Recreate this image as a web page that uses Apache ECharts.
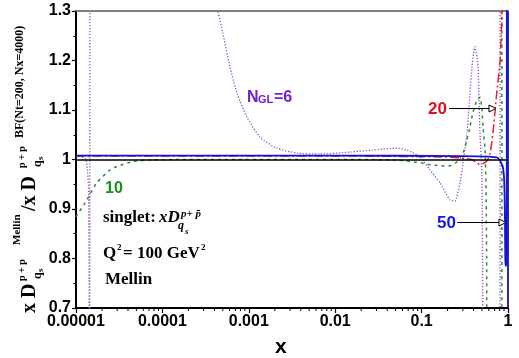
<!DOCTYPE html>
<html><head><meta charset="utf-8">
<script src="https://cdn.jsdelivr.net/npm/echarts@6/dist/echarts.min.js"></script>
<style>html,body{margin:0;padding:0;background:#fff}#c{width:519px;height:358px}</style>
</head><body><div id="c"></div>
<script>
// ---- data ----
const xTickLabels = ['0.00001','0.0001','0.001','0.01','0.1','1'];
const yTickLabels = ['0.7','0.8','0.9','1','1.1','1.2','1.3'];
const ngl6 = [[1e-5,1.008],[1.3e-5,1.0],[1.4e-5,0.93],[1.44e-5,0.4],[1.46e-5,1.7],[3e-4,1.6],[4.0e-4,1.33],[4.4e-4,1.298],[5.0e-4,1.256],[6.05e-4,1.187],[7.3e-4,1.134],[9.5e-4,1.086],[1.35e-3,1.045],[2.1e-3,1.023],[3.6e-3,1.013],[6.7e-3,1.011],[0.0148,1.015],[0.0274,1.019],[0.052,1.023],[0.068,1.019],[0.096,1.005],[0.125,0.979],[0.163,0.953],[0.213,0.918],[0.244,0.916],[0.278,0.953],[0.294,0.979],[0.335,1.054],[0.383,1.187],[0.40,1.215],[0.415,1.228],[0.43,1.215],[0.45,1.187],[0.474,1.054],[0.5,0.959],[0.514,0.6],[0.52,0.4],[0.8,0.4],[0.82,1.7],[1,1.7]];
const ngl10 = [[1e-5,0.884],[1.33e-5,0.918],[1.74e-5,0.953],[2.48e-5,0.979],[2.99e-5,0.986],[4.57e-5,0.996],[7.2e-5,0.999],[2e-4,1.0],[0.01,1.0],[0.05,0.999],[0.1,0.993],[0.13,0.989],[0.18,0.987],[0.22,0.988],[0.26,0.996],[0.302,1.013],[0.335,1.04],[0.363,1.066],[0.393,1.095],[0.438,1.12],[0.474,1.126],[0.50,1.1],[0.514,1.066],[0.542,1.02],[0.556,0.95],[0.566,0.8],[0.572,0.5],[0.84,0.5],[0.86,1.7],[1,1.7]];
const ngl20 = [[1e-5,1.007],[0.01,1.007],[0.2,1.005],[0.38,1.0],[0.44,0.993],[0.47,0.99],[0.52,0.992],[0.58,0.999],[0.62,1.012],[0.67,1.054],[0.74,1.134],[0.807,1.195],[0.835,1.25],[0.853,1.3],[0.87,1.7],[1,1.7]];
const ngl50 = [[1e-5,1.008],[0.01,1.008],[0.3,1.007],[0.6,1.006],[0.75,1.004],[0.807,0.998],[0.85,0.99],[0.872,0.985],[0.895,0.97],[0.91,0.94],[0.922,0.88],[0.93,0.8],[0.94,0.785],[0.965,0.79],[0.975,1.7],[1,1.7]];
const refValue = 1;
// annotation arrows in data space: [x0, x1, y]
const arrow20 = [0.2075, 0.726, 1.104];
const arrow50 = [0.257, 0.948, 0.874];

const chart = echarts.init(document.getElementById('c'), null, {renderer:'canvas'});
const SANS = '"Liberation Sans", Arial, sans-serif';
const SERIF = '"Liberation Serif", "Times New Roman", serif';

const option = {
  animation:false,
  backgroundColor:'#fff',
  grid:{left:76,right:11,top:11,bottom:50},
  xAxis:[{
    type:'log', logBase:10, min:1e-5, max:1,
    axisLine:{show:true,onZero:false,lineStyle:{color:'#000',width:2}},
    axisTick:{show:true,length:5,lineStyle:{color:'#000',width:1.2}},
    axisLabel:{margin:6,fontFamily:SANS,fontWeight:'bold',fontSize:16,color:'#000',
      showMinLabel:true,showMaxLabel:true,
      formatter:v=>xTickLabels[Math.round(Math.log10(v))+5]},
    splitLine:{show:false}
  },{
    type:'log', logBase:10, min:1e-5, max:1, position:'top',
    axisLine:{show:true,lineStyle:{color:'#808080',width:2}},
    axisTick:{show:false},axisLabel:{show:false},splitLine:{show:false}
  }],
  yAxis:[{
    type:'value', min:0.7, max:1.3, interval:0.1,
    axisLine:{show:true,onZero:false,lineStyle:{color:'#000',width:2}},
    axisTick:{show:true,length:4,lineStyle:{color:'#000',width:1.2}},
    minorTick:{show:true,splitNumber:2,length:2.5,lineStyle:{color:'#000',width:1}},
    axisLabel:{margin:5,fontFamily:SANS,fontWeight:'bold',fontSize:16,color:'#000',
      formatter:v=>yTickLabels[Math.round((v-0.7)/0.1)]},
    splitLine:{show:false}
  },{
    type:'value', min:0.7, max:1.3, position:'right',
    axisLine:{show:true,lineStyle:{color:'#2b2bb0',width:2}},
    axisTick:{show:false},axisLabel:{show:false},splitLine:{show:false}
  }],
  series:[
    {type:'line',name:'NGL=6',data:ngl6,symbol:'none',smooth:0.2,clip:true,z:2,
      lineStyle:{color:'#8a55d0',width:1.3,type:[1.3,1.7]}},
    {type:'line',name:'10',data:ngl10,symbol:'none',smooth:0.2,clip:true,z:3,
      lineStyle:{color:'#2a8f2a',width:1.5,type:[3,4]}},
    {type:'line',name:'20',data:ngl20,symbol:'none',smooth:0.2,clip:true,z:4,
      lineStyle:{color:'#e0202a',width:1.5,type:[9,3,2,3]}},
    {type:'line',name:'50',data:ngl50,symbol:'none',smooth:0.2,clip:true,z:5,
      lineStyle:{color:'#1212e0',width:1.8},
      markLine:{silent:true,symbol:['none','none'],label:{show:false},z:6,
        lineStyle:{color:'#000',width:1.5,type:'solid'},data:[{yAxis:refValue}]}}
  ]
};
chart.setOption(option);

function txt(x,y,text,font,fill,rot){
  const e = {type:'text',x:x,y:y,z:20,silent:true,
    style:{text:text,font:font,fill:fill||'#000',align:'left',verticalAlign:'middle',textAlign:'left',textVerticalAlign:'middle'}};
  if(rot) e.rotation = rot;
  return e;
}
const R = Math.PI/2;
const g = [];
// minor x ticks (log 2..9 per decade)
const yBottom = chart.convertToPixel({yAxisIndex:0}, 0.7);
for(let d=-5; d<0; d++){
  for(let k=2;k<=9;k++){
    const px = chart.convertToPixel({xAxisIndex:0}, k*Math.pow(10,d));
    g.push({type:'line',z:10,silent:true,shape:{x1:px,y1:yBottom,x2:px,y2:yBottom+3},style:{stroke:'#000',lineWidth:1}});
  }
}
// arrows
function arrow(a){
  const p0 = chart.convertToPixel({xAxisIndex:0,yAxisIndex:0},[a[0],a[2]]);
  const p1 = chart.convertToPixel({xAxisIndex:0,yAxisIndex:0},[a[1],a[2]]);
  const y = Math.round(p0[1])+0.5;
  g.push({type:'line',z:15,silent:true,shape:{x1:p0[0],y1:y,x2:p1[0]-6,y2:y},style:{stroke:'#000',lineWidth:1.2}});
  g.push({type:'polygon',z:16,silent:true,shape:{points:[[p1[0],y],[p1[0]-7,y-3.5],[p1[0]-7,y+3.5]]},style:{fill:'#fff',stroke:'#000',lineWidth:1}});
}
arrow(arrow20); arrow(arrow50);
// curve labels
g.push(txt(428,109,'20','bold 17px '+SANS,'#e0101a'));
g.push(txt(437,223,'50','bold 17px '+SANS,'#1515f0'));
g.push(txt(105,189,'10','bold 16px '+SANS,'#1a8f1a'));
g.push(txt(247,98,'N','bold 16px '+SANS,'#7020d0'));
g.push(txt(258,100,'GL','bold 11px '+SANS,'#7020d0'));
g.push(txt(274,98,'=6','bold 16px '+SANS,'#7020d0'));
// inner text block
g.push(txt(103,218,'singlet:','bold 17px '+SERIF));
g.push(txt(159,218,'xD','bold italic 17px '+SERIF));
g.push(txt(181,214,'p+ p\u0304','bold italic 11px '+SERIF));
g.push(txt(178,226,'q','bold italic 12px '+SERIF));
g.push(txt(185,232,'s','bold italic 9px '+SERIF));
g.push(txt(103,254,'Q','bold 17px '+SERIF));
g.push(txt(117,248,'2','bold 9px '+SERIF));
g.push(txt(123,254,'= 100 GeV','bold 17px '+SERIF));
g.push(txt(201,248,'2','bold 9px '+SERIF));
g.push(txt(105,280,'Mellin','bold 17px '+SERIF));
// x axis title
g.push(txt(275,347,'x','bold 21px '+SANS));
// y axis title (rotated)
g.push(txt(30,313,'x D','bold 20px '+SERIF,'#000',R));
g.push(txt(38,279,'q','bold 12px '+SERIF,'#000',R));
g.push(txt(41,272,'s','bold 9px '+SERIF,'#000',R));
g.push(txt(22,281,'p + p','bold 10px '+SERIF,'#000',R));
g.push(txt(17,245,'Mellin','bold 11px '+SERIF,'#000',R));
g.push(txt(30,211,'/x D','bold 20px '+SERIF,'#000',R));
g.push(txt(38,167,'q','bold 12px '+SERIF,'#000',R));
g.push(txt(41,160,'s','bold 9px '+SERIF,'#000',R));
g.push(txt(22,168,'p + p','bold 10px '+SERIF,'#000',R));
g.push(txt(20,138,'BF(Nt=200, Nx=4000)','bold 12px '+SERIF,'#000',R));
chart.setOption({graphic:{elements:g}});
</script></body></html>
